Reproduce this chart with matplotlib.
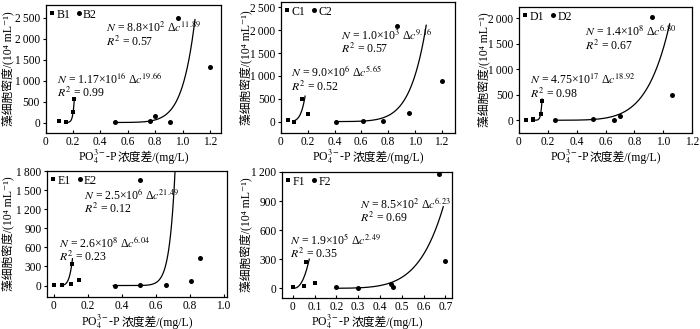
import numpy as np
import matplotlib
matplotlib.use("Agg")
import matplotlib.pyplot as plt
from matplotlib.lines import Line2D
from matplotlib.offsetbox import TextArea, HPacker, AnchoredOffsetbox

FAMILY = ['Liberation Serif', 'Noto Sans CJK SC', 'DejaVu Serif']
plt.rcParams['font.family'] = FAMILY
plt.rcParams['mathtext.fontset'] = 'stix'
plt.rcParams['font.size'] = 8.5

# ---- data: (Δc, cell density) per group, group 1 = squares, group 2 = circles ----
b1_x = [0.10, 0.15, 0.20, 0.21]
b1_y = [30, 5, 240, 570]
b2_x = [0.51, 0.76, 0.80, 0.91, 0.97, 1.20]
b2_y = [5, 30, 160, 10, 2500, 1320]

c1_x = [0.05, 0.10, 0.16, 0.20]
c1_y = [30, 0, 500, 160]
c2_x = [0.41, 0.61, 0.76, 0.87, 0.96, 1.20]
c2_y = [0, 20, 5, 2090, 180, 880]

d1_x = [0.05, 0.10, 0.10, 0.15, 0.16]
d1_y = [10, 25, 5, 120, 370]
d2_x = [0.25, 0.51, 0.66, 0.70, 0.92, 1.06]
d2_y = [5, 25, 10, 90, 2030, 490]

e1_x = [0.00, 0.05, 0.10, 0.11, 0.15]
e1_y = [15, 5, 30, 340, 95]
e2_x = [0.36, 0.51, 0.51, 0.66, 0.81, 0.86]
e2_y = [0, 15, 1660, 5, 70, 430]

f1_x = [0.00, 0.05, 0.06, 0.10]
f1_y = [10, 20, 275, 50]
f2_x = [0.20, 0.30, 0.45, 0.46, 0.67, 0.70]
f2_y = [15, 5, 40, 10, 1180, 280]

# power-law fits N = a * Δc^b, drawn over [x0, x1]
fit_a = {'B1': 1.17e16, 'B2': 8.8e2, 'C1': 9.0e6, 'C2': 1.0e3,
         'D1': 4.75e17, 'D2': 1.4e3, 'E1': 2.6e8, 'E2': 2.5e6,
         'F1': 1.9e5, 'F2': 8.5e3}
fit_b = {'B1': 19.66, 'B2': 11.89, 'C1': 5.65, 'C2': 9.16,
         'D1': 18.92, 'D2': 6.80, 'E1': 6.04, 'E2': 21.49,
         'F1': 2.49, 'F2': 6.23}
fit_range = {'B1': (0.15, 0.21), 'B2': (0.50, 1.09), 'C1': (0.10, 0.18),
             'C2': (0.41, 1.085), 'D1': (0.10, 0.16), 'D2': (0.25, 1.045),
             'E1': (0.05, 0.11), 'E2': (0.35, 0.73), 'F1': (0.00, 0.075),
             'F2': (0.20, 0.69)}

fit_text = {
    'B1': r'$N$ = 1.17×10$^{16}$ Δ$c^{19.66}$' + '\n' + r'$R^2$ = 0.99',
    'B2': r'$N$ = 8.8×10$^{2}$ Δ$c^{11.89}$' + '\n' + r'$R^2$ = 0.57',
    'C1': r'$N$ = 9.0×10$^{6}$ Δ$c^{5.65}$' + '\n' + r'$R^2$ = 0.52',
    'C2': r'$N$ = 1.0×10$^{3}$ Δ$c^{9.16}$' + '\n' + r'$R^2$ = 0.57',
    'D1': r'$N$ = 4.75×10$^{17}$ Δ$c^{18.92}$' + '\n' + r'$R^2$ = 0.98',
    'D2': r'$N$ = 1.4×10$^{8}$ Δ$c^{6.80}$' + '\n' + r'$R^2$ = 0.67',
    'E1': r'$N$ = 2.6×10$^{8}$ Δ$c^{6.04}$' + '\n' + r'$R^2$ = 0.23',
    'E2': r'$N$ = 2.5×10$^{6}$ Δ$c^{21.49}$' + '\n' + r'$R^2$ = 0.12',
    'F1': r'$N$ = 1.9×10$^{5}$ Δ$c^{2.49}$' + '\n' + r'$R^2$ = 0.35',
    'F2': r'$N$ = 8.5×10$^{2}$ Δ$c^{6.23}$' + '\n' + r'$R^2$ = 0.69',
}
# left x and vertical centre of each two-line fit label, in data units
text_pos = {
    'B1': (0.085, 885), 'B2': (0.44, 2095),
    'C1': (0.075, 935), 'C2': (0.45, 1750),
    'D1': (0.076, 658), 'D2': (0.455, 1610),
    'E1': (0.03, 568), 'E2': (0.18, 1318),
    'F1': (-0.014, 428), 'F2': (0.307, 805),
}

panels = [
    dict(g='B', x1=b1_x, y1=b1_y, x2=b2_x, y2=b2_y,
         xlim=(0, 1.28), ylim=(-250, 2800),
         xt=[0, 0.2, 0.4, 0.6, 0.8, 1.0, 1.2], yt=[0, 500, 1000, 1500, 2000, 2500],
         box=(45.5, 5, 221, 133), ylx=14, xly=157),
    dict(g='C', x1=c1_x, y1=c1_y, x2=c2_x, y2=c2_y,
         xlim=(0, 1.3), ylim=(-250, 2620),
         xt=[0, 0.2, 0.4, 0.6, 0.8, 1.0, 1.2], yt=[0, 500, 1000, 1500, 2000, 2500],
         box=(281, 2, 455, 133), ylx=252, xly=157),
    dict(g='D', x1=d1_x, y1=d1_y, x2=d2_x, y2=d2_y,
         xlim=(0, 1.2), ylim=(-250, 2220),
         xt=[0, 0.2, 0.4, 0.6, 0.8, 1.0, 1.2], yt=[0, 500, 1000, 1500, 2000],
         box=(519, 7, 692, 133), ylx=490, xly=157),
    dict(g='E', x1=e1_x, y1=e1_y, x2=e2_x, y2=e2_y,
         xlim=(-0.04, 1.02), ylim=(-180, 1800),
         xt=[0, 0.2, 0.4, 0.6, 0.8, 1.0], yt=[0, 300, 600, 900, 1200, 1500, 1800],
         box=(47, 171, 227, 297), ylx=14, xly=321.5),
    dict(g='F', x1=f1_x, y1=f1_y, x2=f2_x, y2=f2_y,
         xlim=(-0.05, 0.73), ylim=(-100, 1200),
         xt=[0, 0.1, 0.2, 0.3, 0.4, 0.5, 0.6, 0.7], yt=[0, 300, 600, 900, 1200],
         box=(282, 172, 452, 298), ylx=252, xly=321.5),
]

W, H = 700, 329
fig = plt.figure(figsize=(W / 100, H / 100), dpi=100)


def fmt_num(v):
    return f'{int(v):,}'.replace(',', '\u2009')


def fmt_x(v):
    return '0' if v == 0 else f'{v:.1f}'


for p in panels:
    l, t, r, b = p['box']
    aw, ah = r - l, b - t
    ax = fig.add_axes([l / W, 1 - b / H, aw / W, ah / H])
    g = p['g']
    ax.plot(p['x1'], p['y1'], 's', color='black', ms=3.2, mew=0)
    ax.plot(p['x2'], p['y2'], 'o', color='black', ms=3.6, mew=0)
    for k in ('1', '2'):
        key = g + k
        x0, x1 = fit_range[key]
        xs = np.linspace(x0, x1, 200)
        ax.plot(xs, fit_a[key] * xs ** fit_b[key], color='black', lw=0.9)
        tx, ty = text_pos[key]
        ax.text(tx, ty, fit_text[key], va='center', ha='left', fontsize=8.5,
                linespacing=1.0)
    ax.set_xlim(*p['xlim'])
    ax.set_ylim(*p['ylim'])
    ax.set_xticks(p['xt'])
    ax.set_xticklabels([fmt_x(v) for v in p['xt']])
    ax.set_yticks(p['yt'])
    ax.set_yticklabels([fmt_num(v) for v in p['yt']])
    ax.tick_params(axis='x', direction='in', length=2.5, width=0.8, labelsize=8.3, pad=2.2)
    ax.tick_params(axis='y', direction='out', length=2.5, width=0.8, labelsize=8.3, pad=1.5)
    for s in ax.spines.values():
        s.set_linewidth(0.9)

    # y label (right edge of the rotated text sits at ylx)
    ax.set_ylabel('藻细胞密度/(10⁴ mL⁻¹)', fontsize=8.5, family=FAMILY)
    ax.yaxis.set_label_coords((p['ylx'] - l) / aw, 0.5)

    # x label: chemical formula in mathtext followed by CJK text, on one baseline
    part1 = TextArea(r'PO$_4^{3-}$-P', textprops=dict(fontsize=8.5, family=FAMILY))
    part2 = TextArea('浓度差/(mg/L)', textprops=dict(fontsize=8.5, family=FAMILY))
    pack = HPacker(children=[part1, part2], align='baseline', pad=0, sep=0)
    anc = AnchoredOffsetbox(loc='center', child=pack, pad=0, borderpad=0,
                            frameon=False,
                            bbox_to_anchor=(0.5, -(p['xly'] - b) / ah),
                            bbox_transform=ax.transAxes)
    ax.add_artist(anc)

    handles = [Line2D([], [], marker='s', ls='none', color='black', ms=3.2, mew=0),
               Line2D([], [], marker='o', ls='none', color='black', ms=3.6, mew=0)]
    ax.legend(handles, [g + '1', g + '2'], loc='upper left', ncol=2, frameon=False,
              handlelength=0.5, handletextpad=0.1, columnspacing=0.5,
              borderaxespad=0.1, borderpad=0.2, fontsize=8.5)

fig.savefig('out.png', dpi=100)
